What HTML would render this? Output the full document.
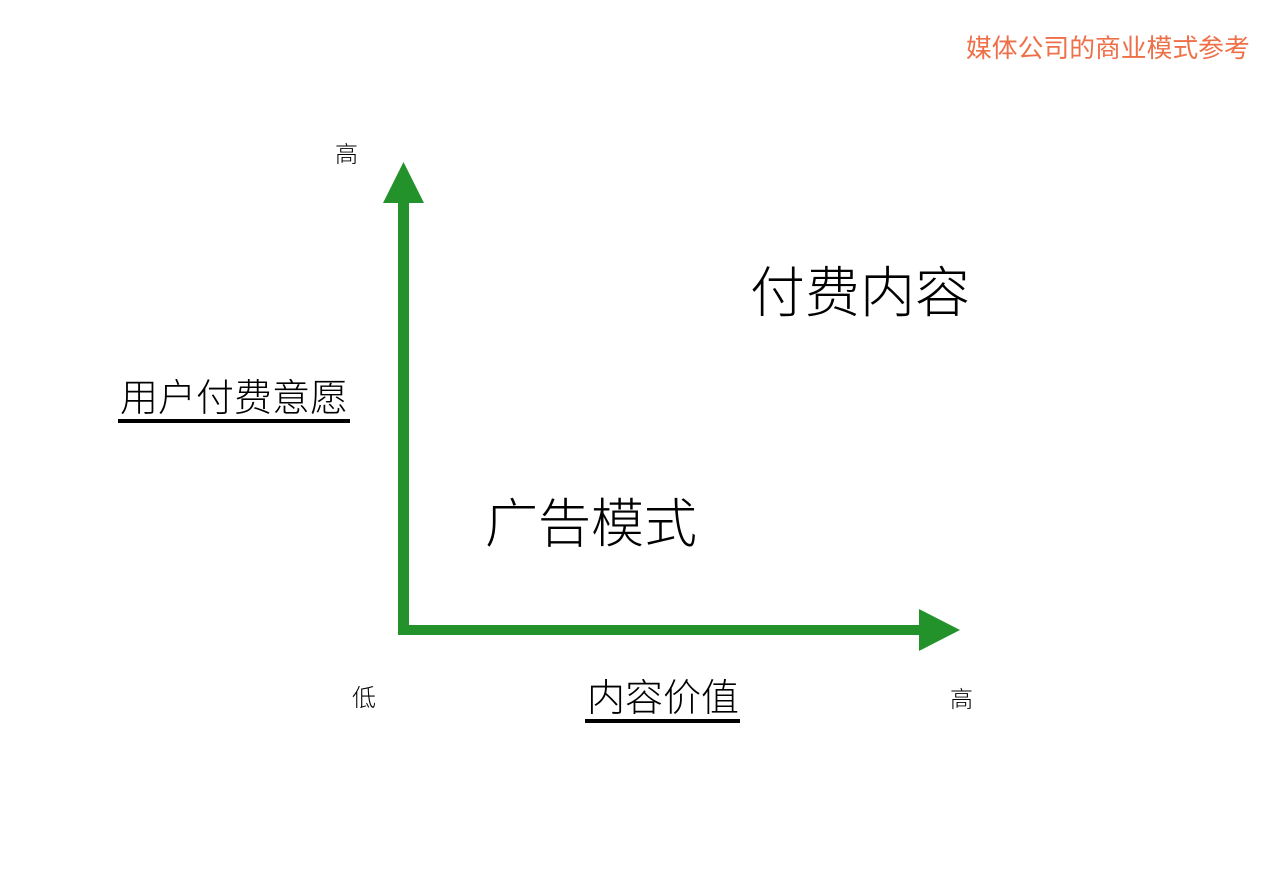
<!DOCTYPE html>
<html><head><meta charset="utf-8"><style>
body{margin:0;width:1288px;height:874px;background:#fff;position:relative;overflow:hidden;font-family:"Liberation Sans","Noto Sans CJK SC",sans-serif;}
.t{position:absolute;white-space:nowrap;line-height:1;color:#000;font-weight:300;}
.u{position:absolute;background:#000;height:4px;}
</style></head><body>
<div class="t" style="left:966px;top:37px;font-size:25.8px;color:#ee7048;font-weight:400">媒体公司的商业模式参考</div>
<svg width="1288" height="874" style="position:absolute;left:0;top:0">
<rect x="398" y="200" width="11" height="435" fill="#23922b"/>
<polygon points="403.5,162 383,203 424,203" fill="#23922b"/>
<rect x="403" y="625" width="520" height="10" fill="#23922b"/>
<polygon points="960,630 919,609 919,651" fill="#23922b"/>
</svg>
<div class="t" style="left:335px;top:143px;font-size:23px">高</div>
<div class="t" style="left:750px;top:266px;font-size:55px">付费内容</div>
<div class="t" style="left:120px;top:380px;font-size:38px">用户付费意愿</div>
<div class="u" style="left:118px;top:419px;width:232px"></div>
<div class="t" style="left:485px;top:498px;font-size:53px">广告模式</div>
<div class="t" style="left:352px;top:687px;font-size:24px">低</div>
<div class="t" style="left:587px;top:680px;font-size:38px">内容价值</div>
<div class="u" style="left:585px;top:719px;width:155px"></div>
<div class="t" style="left:950px;top:688px;font-size:23px">高</div>
</body></html>
